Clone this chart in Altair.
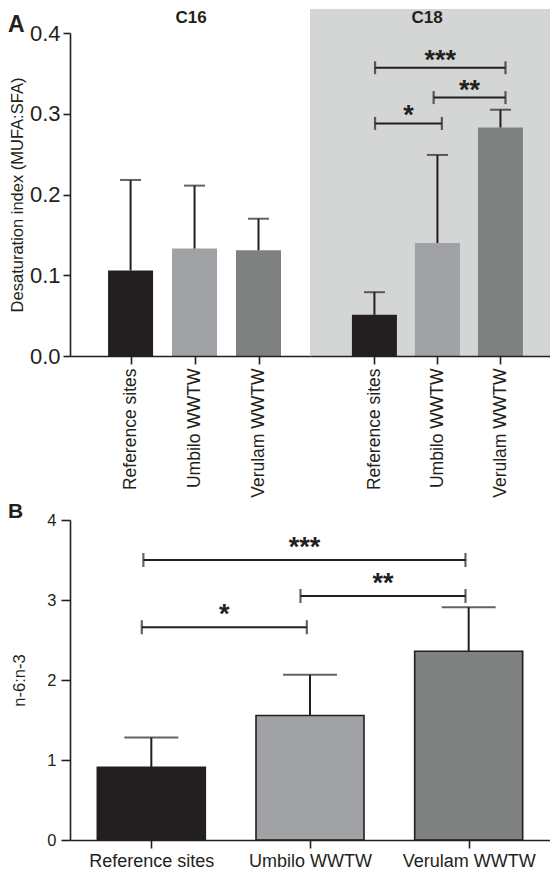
import altair as alt
import pandas as pd

# ---------------- data ----------------
groups = ["Reference sites", "Umbilo WWTW", "Verulam WWTW"]
positions = [0, 1, 2]
bar_colors = ["#231f20", "#a0a2a5", "#7f8180"]

c16_mean = [0.106, 0.133, 0.131]
c16_sd = [0.112, 0.078, 0.039]
c18_mean = [0.051, 0.140, 0.283]
c18_sd = [0.028, 0.109, 0.022]
n6n3_mean = [0.91, 1.556, 2.36]
n6n3_sd = [0.37, 0.51, 0.55]

c18_sig_start = [0.01, 0.94, 0.01]
c18_sig_end = [2.08, 2.08, 1.07]
c18_sig_level = [0.357, 0.320, 0.288]
c18_sig_label = ["***", "**", "*"]

n6_sig_start = [-0.05, 0.94, -0.06]
n6_sig_end = [1.98, 1.98, 0.98]
n6_sig_level = [3.50, 3.05, 2.66]
n6_sig_label = ["***", "**", "*"]

top_ticks = [0.0, 0.1, 0.2, 0.3, 0.4]
bottom_ticks = [0, 1, 2, 3, 4]

FONT = "Liberation Sans"
INK = "#231f20"
SHADE = "#d4d6d5"


def bars_df(mean, sd):
    return pd.DataFrame({
        "pos": positions,
        "group": groups,
        "mean": mean,
        "top": [m + s for m, s in zip(mean, sd)],
    })


def sig_df(start, end, level, label):
    d = pd.DataFrame({"start": start, "end": end, "level": level, "label": label})
    d["mid"] = (d["start"] + d["end"]) / 2
    return d


label_expr = (
    f"datum.value == 0 ? '{groups[0]}' : datum.value == 1 ? '{groups[1]}' : '{groups[2]}'"
)
color = alt.Color("group:N", scale=alt.Scale(domain=groups, range=bar_colors), legend=None)
one = pd.DataFrame({"k": [0]})


def panel(df, sig, width, height, xdomain, ydomain, yaxis, xaxis, bar_size,
          cap_size, bracket_cap, star_dy, fill, bar_stroke, annotations, bg_top):
    xs = alt.Scale(domain=xdomain, nice=False, zero=False)
    ys = alt.Scale(domain=ydomain, nice=False)

    def X(f):
        return alt.X(f, type="quantitative", scale=xs, axis=xaxis, title=None)

    def Y(f):
        return alt.Y(f, type="quantitative", scale=ys, axis=yaxis)

    layers = []
    if bg_top is not None:
        layers.append(
            alt.Chart(one).mark_rect(color=fill).encode(
                x=alt.value(0), x2=alt.value(width),
                y=alt.value(bg_top), y2=alt.value(height))
        )
    bar_kw = dict(size=bar_size)
    if bar_stroke:
        bar_kw.update(stroke=INK, strokeWidth=1.6)
    base = alt.Chart(df)
    layers.append(base.mark_bar(**bar_kw).encode(x=X("pos"), y=Y("mean"), color=color))
    layers.append(base.mark_rule(color=INK, strokeWidth=2).encode(
        x=X("pos"), y=Y("mean"), y2="top"))
    layers.append(base.mark_tick(color=INK, orient="horizontal", size=cap_size,
                                 thickness=2).encode(x=X("pos"), y=Y("top")))
    if sig is not None:
        sb = alt.Chart(sig)
        layers.append(sb.mark_rule(color=INK, strokeWidth=2).encode(
            x=X("start"), x2="end", y=Y("level")))
        layers.append(sb.transform_fold(["start", "end"], as_=["side", "xpos"])
                      .mark_tick(color=INK, orient="vertical", size=bracket_cap, thickness=2.2)
                      .encode(x=X("xpos"), y=Y("level")))
        layers.append(sb.mark_text(color=INK, font=FONT, fontSize=27, fontWeight="bold",
                                   baseline="alphabetic", align="center", dy=star_dy)
                      .encode(x=X("mid"), y=Y("level"), text="label:N"))
    for (tx, ty, txt, size, align) in annotations:
        layers.append(alt.Chart(one).mark_text(
            font=FONT, fontSize=size, fontWeight="bold", color=INK,
            align=align, baseline="middle").encode(
            x=alt.value(tx), y=alt.value(ty), text=alt.value(txt)))
    return alt.layer(*layers).properties(width=width, height=height)


top_x_axis = alt.Axis(values=positions, labelExpr=label_expr, labelAngle=-90,
                      labelFontSize=17.5, tickSize=8, labelPadding=4, title=None,
                      grid=False, zindex=1)
top_y_axis = alt.Axis(values=top_ticks, format=".1f", labelFontSize=22, tickSize=7,
                      labelPadding=3, title="Desaturation index (MUFA:SFA)",
                      titleFontSize=16.5, titleFontWeight="normal", titlePadding=4,
                      grid=False, zindex=1)

left = panel(bars_df(c16_mean, c16_sd), None, 240, 323, [-0.869, 2.727], [0, 0.4],
             top_y_axis, top_x_axis, 45, 21, 13, 1, "white", False,
             [(-62, -8.5, "A", 23, "left"), (121, -15.5, "C16", 17, "center")], -24)

right = panel(bars_df(c18_mean, c18_sd),
              sig_df(c18_sig_start, c18_sig_end, c18_sig_level, c18_sig_label),
              240, 323, [-0.943, 2.707], [0, 0.4], None, top_x_axis, 45, 21, 13, 1,
              SHADE, False, [(117, -15.5, "C18", 17, "center")], -24)

top = alt.hconcat(left, right, spacing=0)

bottom_x_axis = alt.Axis(values=positions, labelExpr=label_expr, labelAngle=0,
                         labelFontSize=18, tickSize=8, labelPadding=4, title=None,
                         grid=False, zindex=1)
bottom_y_axis = alt.Axis(values=bottom_ticks, format="d", labelFontSize=16.5, tickSize=9,
                         labelPadding=5, title="n-6:n-3", titleFontSize=16.5,
                         titleFontWeight="normal", titlePadding=19, grid=False, zindex=1)

bottom = panel(bars_df(n6n3_mean, n6n3_sd),
               sig_df(n6_sig_start, n6_sig_end, n6_sig_level, n6_sig_label),
               480, 320, [-0.481, 2.481], [0, 4], bottom_y_axis, bottom_x_axis, 108, 54, 14, -4,
               "white", True, [(-62, -8, "B", 21, "left")], None)

chart = alt.vconcat(top, bottom, spacing=3).properties(padding=0).configure_view(
    stroke=None
).configure_axis(
    domainColor=INK, domainWidth=1.6, tickColor=INK, tickWidth=1.6,
    labelColor=INK, titleColor=INK, labelFont=FONT, titleFont=FONT
).configure_concat(spacing=0)

chart.save("out.html", embed_options={"renderer": "svg", "actions": False})
